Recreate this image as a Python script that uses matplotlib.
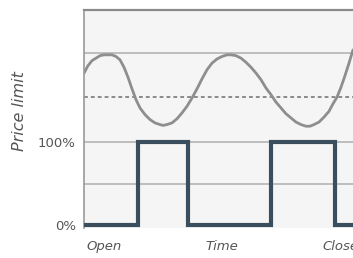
import matplotlib
matplotlib.use("Agg")
import matplotlib.pyplot as plt

# price limit wave (time units, percent)
wave_time = [0, 4, 8, 12, 16, 20, 24, 28, 32, 36, 40, 44, 48, 52, 56, 61, 66, 71, 76, 79,
             83, 88, 93, 98, 103, 108, 113, 118, 123, 128, 133, 138, 143, 147, 152, 157,
             162, 167, 172, 177, 182, 187, 192, 197, 202, 207, 212, 217, 222, 226, 230,
             235, 240, 245, 249, 253, 257, 261, 265, 269]
wave_pct = [183, 192, 198, 201, 204, 205, 205, 205, 203, 199, 190, 178, 164, 151, 141,
            133, 127, 123, 121, 120, 121, 123, 128, 135, 143, 153, 164, 176, 187, 195,
            200, 203, 205, 205, 204, 201, 196, 190, 183, 175, 165, 157, 148, 141, 134,
            129, 124, 121, 119, 119, 121, 124, 130, 137, 146, 154, 166, 180, 195, 211]

# on/off square signal
step_edges = [0, 54, 104, 187, 251, 286]
step_levels = [0, 100, 0, 100, 0]

solid_grid = [50, 100, 207]
dotted_grid = [154]

ytick_vals = [0, 100]
ytick_labels = ['0%', '100%']
xtick_vals = [20, 138, 256]
xtick_labels = ['Open', 'Time', 'Close']

fig = plt.figure(figsize=(3.53, 2.58), dpi=100)
ax = fig.add_axes([84 / 353, 30.5 / 258, 286 / 353, 217.5 / 258])
ax.set_facecolor('#f5f5f5')

for g in solid_grid:
    ax.axhline(g, color='#b4b4b4', lw=1.2, zorder=1)
for g in dotted_grid:
    ax.axhline(g, color='#6e6e6e', lw=1.1, ls=(0, (2.5, 2)), zorder=1)

ax.plot(wave_time, wave_pct, color='#8e8e8e', lw=2.0, solid_joinstyle='round',
        solid_capstyle='round', zorder=2)
ax.stairs(step_levels, step_edges, baseline=None, color='#3b4e5d', lw=3.0,
          clip_on=False, zorder=3)

ax.set_xlim(0, 286)
ax.set_ylim(-3, 259)

for s in ['right', 'bottom']:
    ax.spines[s].set_visible(False)
ax.spines['top'].set_color('#8a8a8a')
ax.spines['top'].set_linewidth(1.6)
ax.spines['left'].set_color('#9a9a9a')
ax.spines['left'].set_linewidth(1.2)

ax.set_yticks(ytick_vals)
ax.set_yticklabels(ytick_labels, color='#555555', fontsize=9.5)
ax.set_xticks(xtick_vals)
ax.set_xticklabels(xtick_labels, color='#555555', fontsize=9.5, style='italic')
ax.tick_params(length=0)
ax.tick_params(axis='y', pad=6)
ax.tick_params(axis='x', pad=9)

fig.text(20 / 353, 1 - 111 / 258, 'Price limit', rotation=90, style='italic',
         color='#555555', fontsize=11.5, ha='center', va='center')

fig.savefig('out.png', dpi=100)
